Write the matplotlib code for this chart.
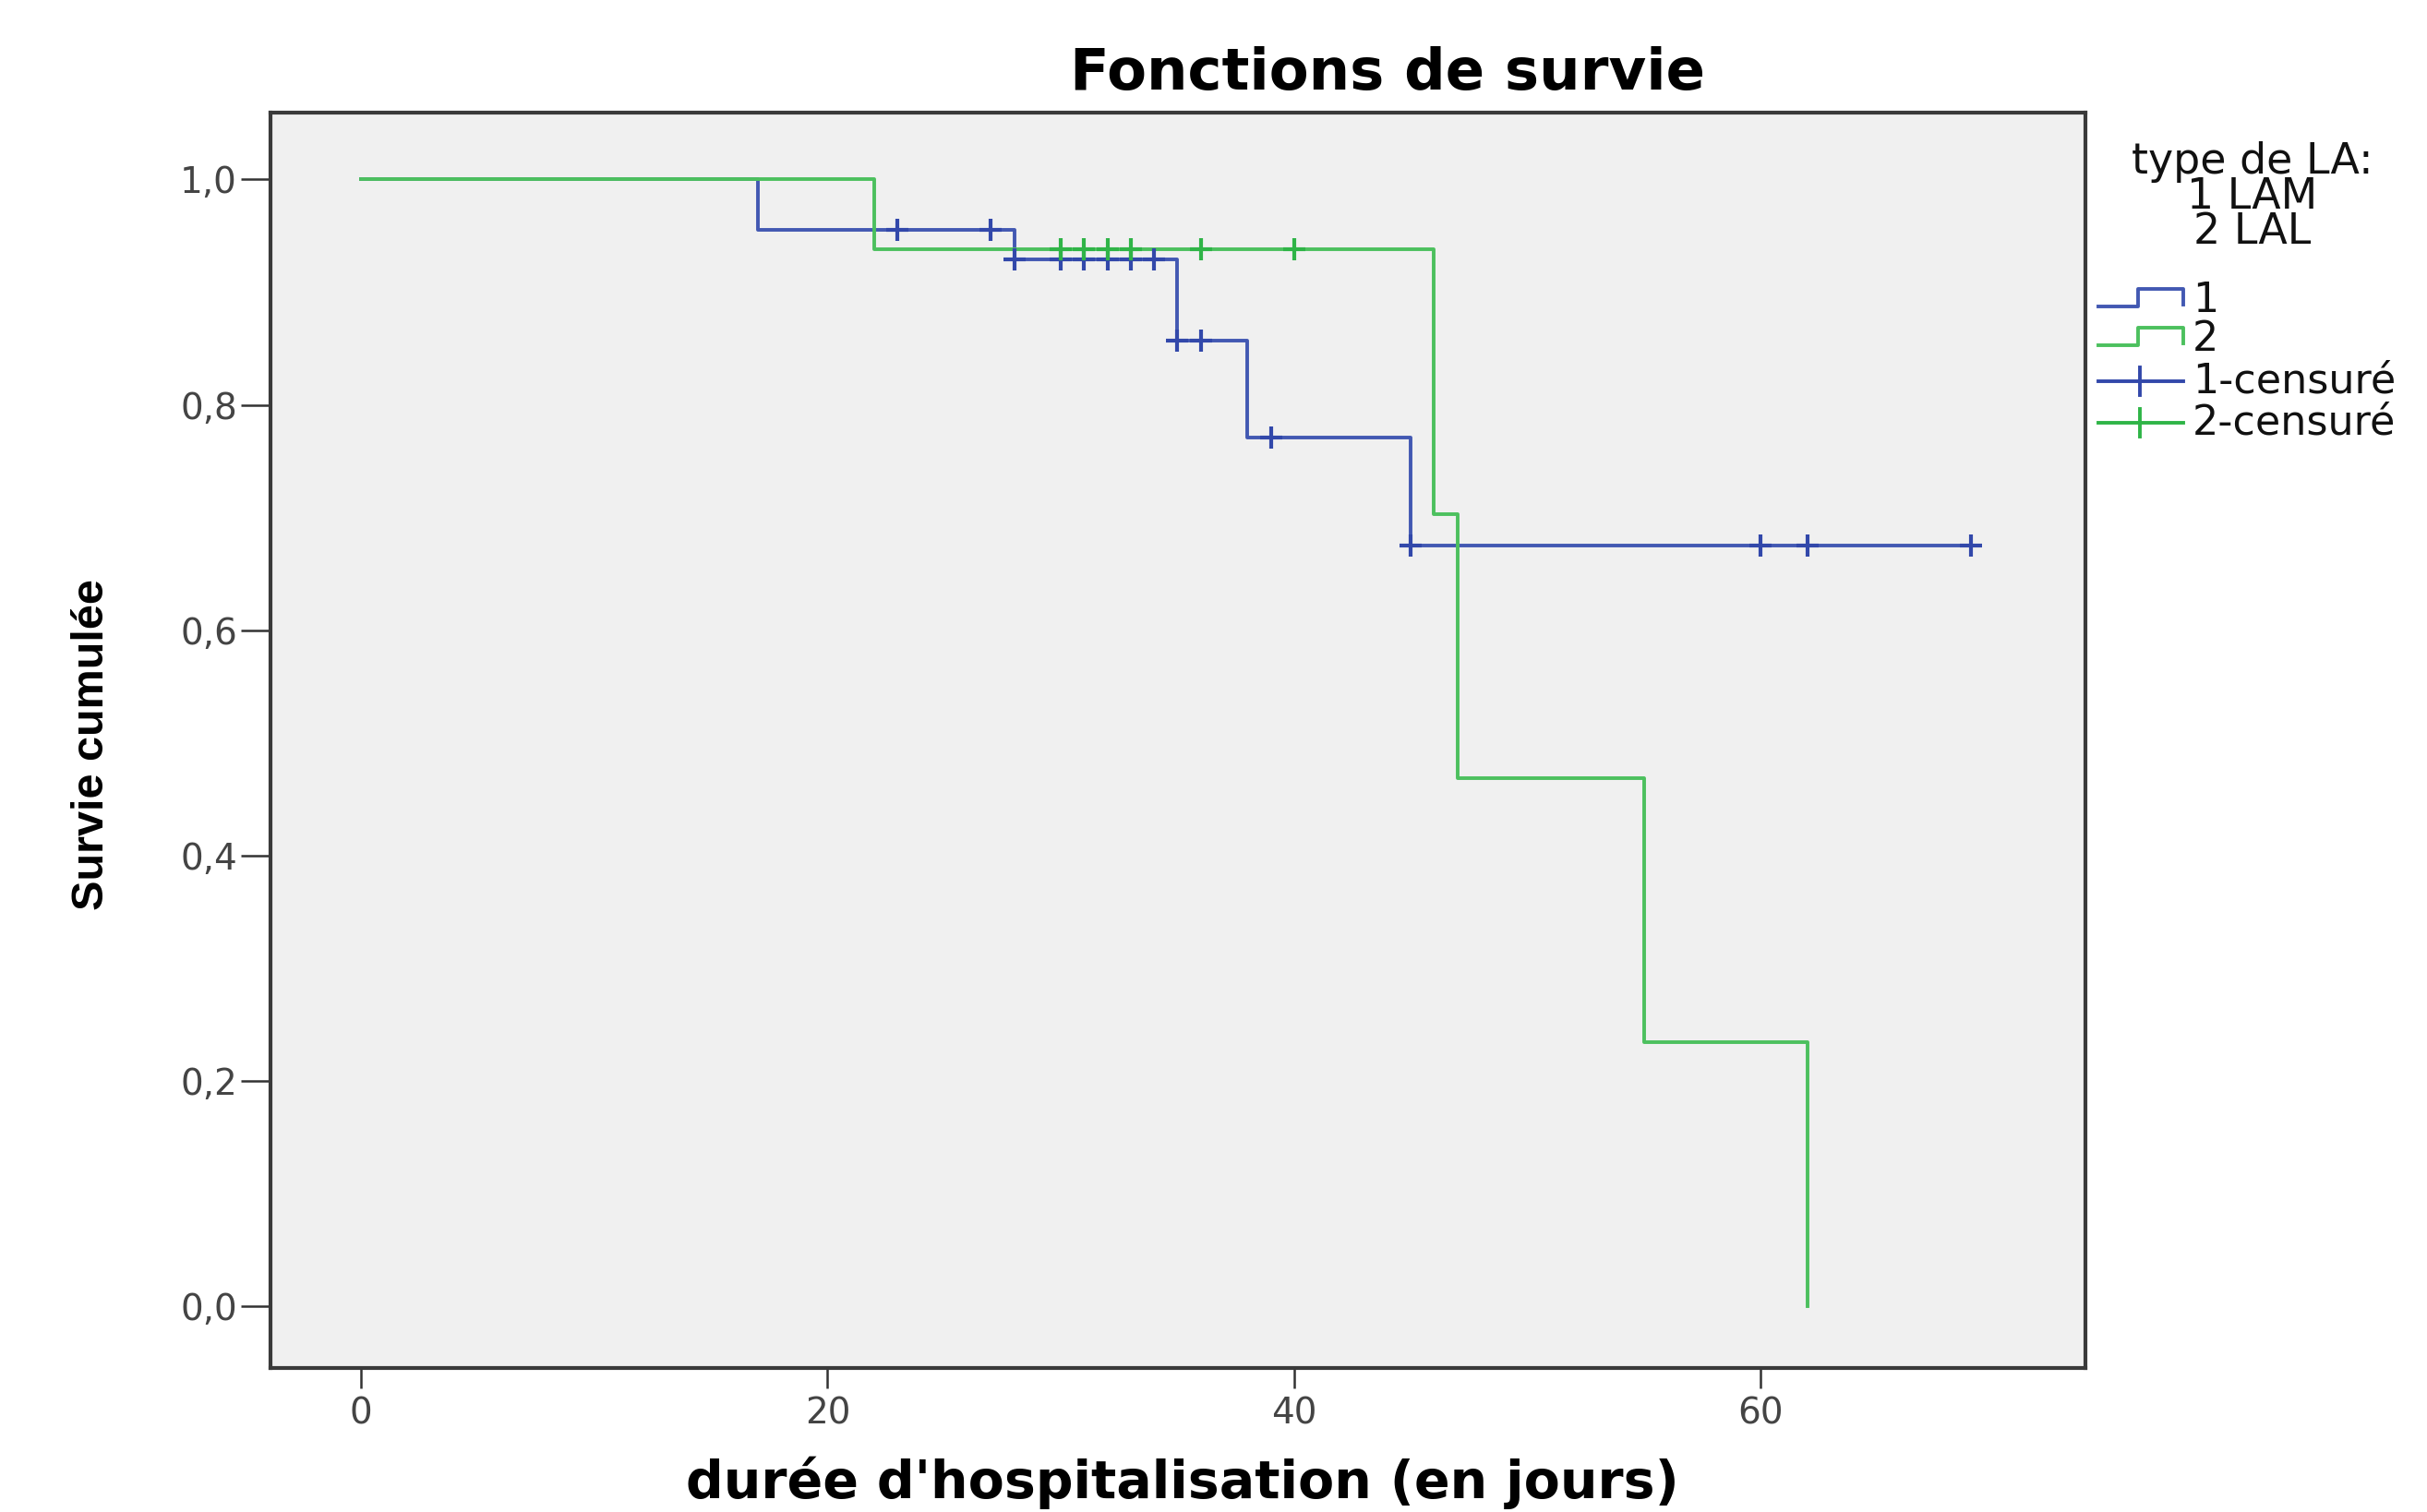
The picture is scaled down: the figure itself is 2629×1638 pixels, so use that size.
import numpy as np
import matplotlib
matplotlib.use("Agg")
import matplotlib.pyplot as plt
from matplotlib.lines import Line2D

# Kaplan-Meier steps
lam_times = [0, 17, 28, 35, 38, 45, 69]
lam_surv = [1.0, 0.955, 0.929, 0.857, 0.771, 0.675, 0.675]
lam_censored = [23, 27, 28, 30, 31, 32, 33, 34, 35, 36, 39, 45, 60, 62, 69]

lal_times = [0, 22, 46, 47, 55, 62]
lal_surv = [1.0, 0.938, 0.703, 0.469, 0.234, 0.0]
lal_censored = [30, 31, 32, 33, 36, 40]

x_ticks = [0, 20, 40, 60]
y_ticks = [0.0, 0.2, 0.4, 0.6, 0.8, 1.0]
y_tick_labels = ['0,0', '0,2', '0,4', '0,6', '0,8', '1,0']

legend_title = ['type de LA:', '1 LAM', '2 LAL']
legend_labels = ['1', '2', '1-censuré', '2-censuré']

BLUE = '#4258b2'
GREEN = '#4cc05e'
BLUE_C = '#3248aa'
GREEN_C = '#2fb447'

W, H = 2629, 1638


def step_value(times, surv, t):
    # right-continuous step function
    i = np.searchsorted(times, t, side='right') - 1
    return np.asarray(surv)[i]


def fx(px):
    return px / W


def fy(py):
    return 1 - py / H


fig = plt.figure(figsize=(W / 100, H / 100), dpi=100)
ax = fig.add_axes([fx(293), fy(1482), fx(2259) - fx(293), fy(122) - fy(1482)])
ax.set_facecolor('#f0f0f0')

ax.plot(lam_times, lam_surv, drawstyle='steps-post', color=BLUE, lw=2.8, zorder=3)
ax.plot(lal_times, lal_surv, drawstyle='steps-post', color=GREEN, lw=2.8, zorder=3)

ax.plot(lam_censored, step_value(lam_times, lam_surv, lam_censored), ls='none',
        marker='+', ms=17, mew=3, color=BLUE_C, zorder=4)
ax.plot(lal_censored, step_value(lal_times, lal_surv, lal_censored), ls='none',
        marker='+', ms=17, mew=3, color=GREEN_C, zorder=4)

ax.set_xlim(-3.88, 73.92)
ax.set_ylim(-0.055, 1.0594)
ax.set_xticks(x_ticks)
ax.set_yticks(y_ticks)
ax.set_yticklabels(y_tick_labels)
ax.tick_params(axis='both', labelsize=28, labelcolor='#444444', color='#333333', width=1.8,
               direction='out', top=False, right=False)
ax.tick_params(axis='y', length=23, pad=3)
ax.tick_params(axis='x', length=16, pad=6)
for s in ax.spines.values():
    s.set_linewidth(3)
    s.set_color('#3a3a3a')

# titles
fig.text(fx(1503), fy(80), 'Fonctions de survie', ha='center', va='center',
         fontsize=45, fontweight='bold', family='DejaVu Sans')
fig.text(fx(1281), fy(1606), "durée d'hospitalisation (en jours)", ha='center', va='center',
         fontsize=41, fontweight='bold', family='DejaVu Sans')
fig.text(fx(100), fy(807), 'Survie cumulée', ha='center', va='center', rotation=90,
         fontsize=35, fontweight='bold', family='Liberation Sans')

# legend drawn by hand to get the SPSS step handles
fig.text(fx(2440), fy(213), '\n'.join(legend_title), ha='center', va='center',
         multialignment='center', linespacing=0.8, fontsize=33, color='#111111')

step_x = [2273, 2316, 2316, 2365, 2365]
step_dy = [0, 0, -19, -19, -2]
for col, py in zip([BLUE, GREEN], [332, 374]):
    fig.add_artist(Line2D([fx(v) for v in step_x], [fy(py + d) for d in step_dy],
                          color=col, lw=2.8, transform=fig.transFigure))
for col, py in zip([BLUE_C, GREEN_C], [413, 458]):
    fig.add_artist(Line2D([fx(2273), fx(2365)], [fy(py), fy(py)], color=col, lw=2.8,
                          transform=fig.transFigure))
    fig.add_artist(Line2D([fx(2318), fx(2318)], [fy(py - 15), fy(py + 15)], color=col, lw=2.8,
                          transform=fig.transFigure))
for lab, py in zip(legend_labels, [326, 368, 413, 458]):
    fig.text(fx(2375), fy(py), lab, ha='left', va='center', fontsize=32, color='#111111')

fig.savefig('out.png', dpi=100, facecolor='white')
